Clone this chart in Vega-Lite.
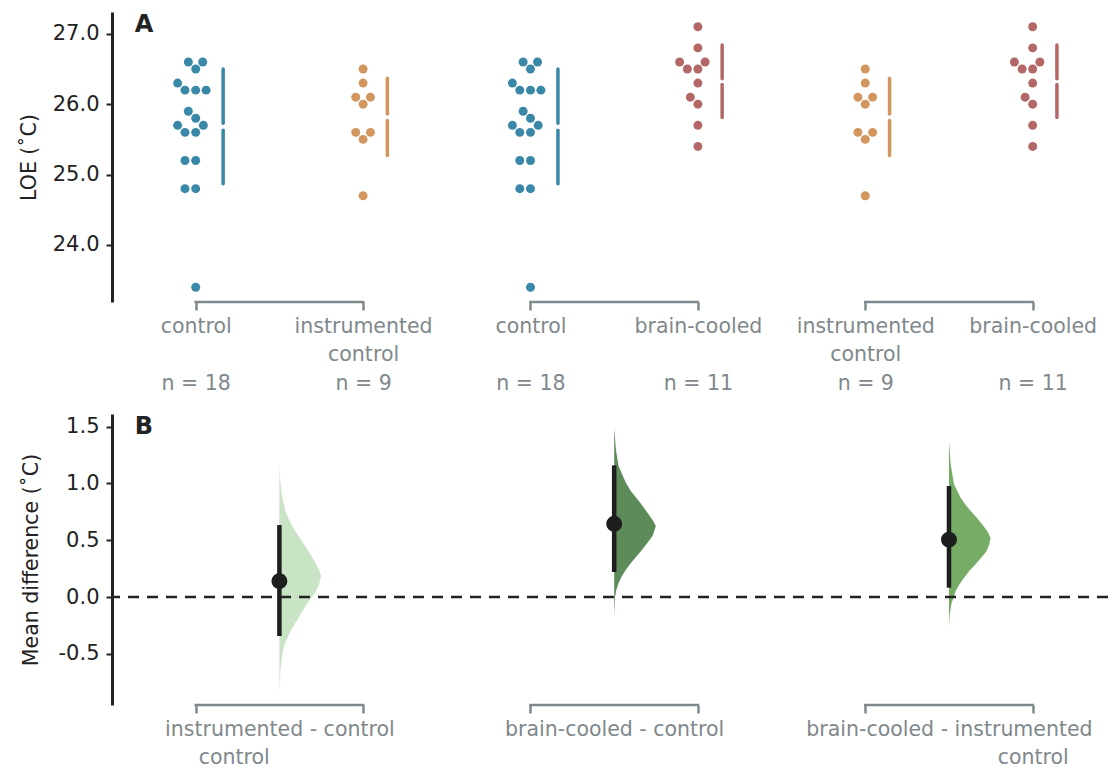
{
  "$schema": "https://vega.github.io/schema/vega-lite/v6.json",
  "background": "white",
  "padding": {"left": 19, "top": 12, "right": 0, "bottom": 0},
  "config": {"view": {"stroke": null}, "font": "DejaVu Sans", "axis": {"grid": false}},
  "spacing": 20,
  "resolve": {"scale": {"color": "independent"}},
  "datasets": {
    "pts": [
      {"g": 1, "grp": "control", "v": 26.6, "off": -0.044},
      {"g": 1, "grp": "control", "v": 26.6, "off": 0.042},
      {"g": 1, "grp": "control", "v": 26.5, "off": 0},
      {"g": 1, "grp": "control", "v": 26.3, "off": -0.108},
      {"g": 1, "grp": "control", "v": 26.2, "off": -0.064},
      {"g": 1, "grp": "control", "v": 26.2, "off": 0},
      {"g": 1, "grp": "control", "v": 26.2, "off": 0.062},
      {"g": 1, "grp": "control", "v": 25.9, "off": -0.044},
      {"g": 1, "grp": "control", "v": 25.8, "off": 0},
      {"g": 1, "grp": "control", "v": 25.7, "off": -0.108},
      {"g": 1, "grp": "control", "v": 25.7, "off": 0.046},
      {"g": 1, "grp": "control", "v": 25.6, "off": -0.064},
      {"g": 1, "grp": "control", "v": 25.6, "off": 0},
      {"g": 1, "grp": "control", "v": 25.2, "off": -0.064},
      {"g": 1, "grp": "control", "v": 25.2, "off": 0},
      {"g": 1, "grp": "control", "v": 24.8, "off": -0.064},
      {"g": 1, "grp": "control", "v": 24.8, "off": 0},
      {"g": 1, "grp": "control", "v": 23.4, "off": 0},
      {"g": 2, "grp": "instrumented", "v": 26.5, "off": 0},
      {"g": 2, "grp": "instrumented", "v": 26.3, "off": 0},
      {"g": 2, "grp": "instrumented", "v": 26.1, "off": -0.044},
      {"g": 2, "grp": "instrumented", "v": 26.1, "off": 0.044},
      {"g": 2, "grp": "instrumented", "v": 26.0, "off": 0},
      {"g": 2, "grp": "instrumented", "v": 25.6, "off": -0.044},
      {"g": 2, "grp": "instrumented", "v": 25.6, "off": 0.044},
      {"g": 2, "grp": "instrumented", "v": 25.5, "off": 0},
      {"g": 2, "grp": "instrumented", "v": 24.7, "off": 0},
      {"g": 3, "grp": "control", "v": 26.6, "off": -0.044},
      {"g": 3, "grp": "control", "v": 26.6, "off": 0.042},
      {"g": 3, "grp": "control", "v": 26.5, "off": 0},
      {"g": 3, "grp": "control", "v": 26.3, "off": -0.108},
      {"g": 3, "grp": "control", "v": 26.2, "off": -0.064},
      {"g": 3, "grp": "control", "v": 26.2, "off": 0},
      {"g": 3, "grp": "control", "v": 26.2, "off": 0.062},
      {"g": 3, "grp": "control", "v": 25.9, "off": -0.044},
      {"g": 3, "grp": "control", "v": 25.8, "off": 0},
      {"g": 3, "grp": "control", "v": 25.7, "off": -0.108},
      {"g": 3, "grp": "control", "v": 25.7, "off": 0.046},
      {"g": 3, "grp": "control", "v": 25.6, "off": -0.064},
      {"g": 3, "grp": "control", "v": 25.6, "off": 0},
      {"g": 3, "grp": "control", "v": 25.2, "off": -0.064},
      {"g": 3, "grp": "control", "v": 25.2, "off": 0},
      {"g": 3, "grp": "control", "v": 24.8, "off": -0.064},
      {"g": 3, "grp": "control", "v": 24.8, "off": 0},
      {"g": 3, "grp": "control", "v": 23.4, "off": 0},
      {"g": 4, "grp": "brain", "v": 27.1, "off": 0},
      {"g": 4, "grp": "brain", "v": 26.8, "off": 0},
      {"g": 4, "grp": "brain", "v": 26.6, "off": -0.109},
      {"g": 4, "grp": "brain", "v": 26.6, "off": 0.043},
      {"g": 4, "grp": "brain", "v": 26.5, "off": -0.063},
      {"g": 4, "grp": "brain", "v": 26.5, "off": 0},
      {"g": 4, "grp": "brain", "v": 26.3, "off": 0},
      {"g": 4, "grp": "brain", "v": 26.1, "off": -0.045},
      {"g": 4, "grp": "brain", "v": 26.0, "off": 0},
      {"g": 4, "grp": "brain", "v": 25.7, "off": 0},
      {"g": 4, "grp": "brain", "v": 25.4, "off": 0},
      {"g": 5, "grp": "instrumented", "v": 26.5, "off": 0},
      {"g": 5, "grp": "instrumented", "v": 26.3, "off": 0},
      {"g": 5, "grp": "instrumented", "v": 26.1, "off": -0.044},
      {"g": 5, "grp": "instrumented", "v": 26.1, "off": 0.044},
      {"g": 5, "grp": "instrumented", "v": 26.0, "off": 0},
      {"g": 5, "grp": "instrumented", "v": 25.6, "off": -0.044},
      {"g": 5, "grp": "instrumented", "v": 25.6, "off": 0.044},
      {"g": 5, "grp": "instrumented", "v": 25.5, "off": 0},
      {"g": 5, "grp": "instrumented", "v": 24.7, "off": 0},
      {"g": 6, "grp": "brain", "v": 27.1, "off": 0},
      {"g": 6, "grp": "brain", "v": 26.8, "off": 0},
      {"g": 6, "grp": "brain", "v": 26.6, "off": -0.109},
      {"g": 6, "grp": "brain", "v": 26.6, "off": 0.043},
      {"g": 6, "grp": "brain", "v": 26.5, "off": -0.063},
      {"g": 6, "grp": "brain", "v": 26.5, "off": 0},
      {"g": 6, "grp": "brain", "v": 26.3, "off": 0},
      {"g": 6, "grp": "brain", "v": 26.1, "off": -0.045},
      {"g": 6, "grp": "brain", "v": 26.0, "off": 0},
      {"g": 6, "grp": "brain", "v": 25.7, "off": 0},
      {"g": 6, "grp": "brain", "v": 25.4, "off": 0}
    ],
    "sd": [
      {"g": 1, "grp": "control", "y": 25.73, "y2": 26.50},
      {"g": 1, "grp": "control", "y": 24.87, "y2": 25.63},
      {"g": 2, "grp": "instrumented", "y": 25.86, "y2": 26.37},
      {"g": 2, "grp": "instrumented", "y": 25.27, "y2": 25.77},
      {"g": 3, "grp": "control", "y": 25.73, "y2": 26.50},
      {"g": 3, "grp": "control", "y": 24.87, "y2": 25.63},
      {"g": 4, "grp": "brain", "y": 26.36, "y2": 26.84},
      {"g": 4, "grp": "brain", "y": 25.81, "y2": 26.28},
      {"g": 5, "grp": "instrumented", "y": 25.86, "y2": 26.37},
      {"g": 5, "grp": "instrumented", "y": 25.27, "y2": 25.77},
      {"g": 6, "grp": "brain", "y": 26.36, "y2": 26.84},
      {"g": 6, "grp": "brain", "y": 25.81, "y2": 26.28}
    ],
    "brk": [
      {"a": 1, "b": 2},
      {"a": 3, "b": 4},
      {"a": 5, "b": 6}
    ],
    "dist": [
      {"cmp": "ic", "c": 1.5, "v": 1.17, "w": 0},
      {"cmp": "ic", "c": 1.5, "v": 1.05, "w": 0.003},
      {"cmp": "ic", "c": 1.5, "v": 0.90, "w": 0.014},
      {"cmp": "ic", "c": 1.5, "v": 0.75, "w": 0.036},
      {"cmp": "ic", "c": 1.5, "v": 0.64, "w": 0.07},
      {"cmp": "ic", "c": 1.5, "v": 0.55, "w": 0.108},
      {"cmp": "ic", "c": 1.5, "v": 0.46, "w": 0.149},
      {"cmp": "ic", "c": 1.5, "v": 0.317, "w": 0.209},
      {"cmp": "ic", "c": 1.5, "v": 0.25, "w": 0.233},
      {"cmp": "ic", "c": 1.5, "v": 0.185, "w": 0.249},
      {"cmp": "ic", "c": 1.5, "v": 0.12, "w": 0.239},
      {"cmp": "ic", "c": 1.5, "v": 0.053, "w": 0.219},
      {"cmp": "ic", "c": 1.5, "v": -0.02, "w": 0.185},
      {"cmp": "ic", "c": 1.5, "v": -0.094, "w": 0.149},
      {"cmp": "ic", "c": 1.5, "v": -0.17, "w": 0.12},
      {"cmp": "ic", "c": 1.5, "v": -0.24, "w": 0.09},
      {"cmp": "ic", "c": 1.5, "v": -0.31, "w": 0.063},
      {"cmp": "ic", "c": 1.5, "v": -0.387, "w": 0.04},
      {"cmp": "ic", "c": 1.5, "v": -0.45, "w": 0.024},
      {"cmp": "ic", "c": 1.5, "v": -0.534, "w": 0.014},
      {"cmp": "ic", "c": 1.5, "v": -0.65, "w": 0.006},
      {"cmp": "ic", "c": 1.5, "v": -0.83, "w": 0},
      {"cmp": "bc", "c": 3.5, "v": 1.49, "w": 0},
      {"cmp": "bc", "c": 3.5, "v": 1.30, "w": 0.010},
      {"cmp": "bc", "c": 3.5, "v": 1.152, "w": 0.026},
      {"cmp": "bc", "c": 3.5, "v": 1.005, "w": 0.07},
      {"cmp": "bc", "c": 3.5, "v": 0.93, "w": 0.10},
      {"cmp": "bc", "c": 3.5, "v": 0.859, "w": 0.139},
      {"cmp": "bc", "c": 3.5, "v": 0.80, "w": 0.17},
      {"cmp": "bc", "c": 3.5, "v": 0.742, "w": 0.199},
      {"cmp": "bc", "c": 3.5, "v": 0.68, "w": 0.228},
      {"cmp": "bc", "c": 3.5, "v": 0.624, "w": 0.249},
      {"cmp": "bc", "c": 3.5, "v": 0.537, "w": 0.229},
      {"cmp": "bc", "c": 3.5, "v": 0.48, "w": 0.20},
      {"cmp": "bc", "c": 3.5, "v": 0.42, "w": 0.169},
      {"cmp": "bc", "c": 3.5, "v": 0.36, "w": 0.135},
      {"cmp": "bc", "c": 3.5, "v": 0.30, "w": 0.10},
      {"cmp": "bc", "c": 3.5, "v": 0.24, "w": 0.07},
      {"cmp": "bc", "c": 3.5, "v": 0.185, "w": 0.046},
      {"cmp": "bc", "c": 3.5, "v": 0.12, "w": 0.026},
      {"cmp": "bc", "c": 3.5, "v": 0.068, "w": 0.014},
      {"cmp": "bc", "c": 3.5, "v": 0.0, "w": 0.005},
      {"cmp": "bc", "c": 3.5, "v": -0.167, "w": 0},
      {"cmp": "bi", "c": 5.5, "v": 1.372, "w": 0},
      {"cmp": "bi", "c": 5.5, "v": 1.167, "w": 0.010},
      {"cmp": "bi", "c": 5.5, "v": 0.991, "w": 0.03},
      {"cmp": "bi", "c": 5.5, "v": 0.873, "w": 0.07},
      {"cmp": "bi", "c": 5.5, "v": 0.81, "w": 0.10},
      {"cmp": "bi", "c": 5.5, "v": 0.756, "w": 0.13},
      {"cmp": "bi", "c": 5.5, "v": 0.70, "w": 0.165},
      {"cmp": "bi", "c": 5.5, "v": 0.639, "w": 0.199},
      {"cmp": "bi", "c": 5.5, "v": 0.58, "w": 0.228},
      {"cmp": "bi", "c": 5.5, "v": 0.522, "w": 0.249},
      {"cmp": "bi", "c": 5.5, "v": 0.46, "w": 0.24},
      {"cmp": "bi", "c": 5.5, "v": 0.405, "w": 0.225},
      {"cmp": "bi", "c": 5.5, "v": 0.35, "w": 0.195},
      {"cmp": "bi", "c": 5.5, "v": 0.288, "w": 0.159},
      {"cmp": "bi", "c": 5.5, "v": 0.23, "w": 0.122},
      {"cmp": "bi", "c": 5.5, "v": 0.17, "w": 0.09},
      {"cmp": "bi", "c": 5.5, "v": 0.11, "w": 0.062},
      {"cmp": "bi", "c": 5.5, "v": 0.053, "w": 0.04},
      {"cmp": "bi", "c": 5.5, "v": -0.064, "w": 0.014},
      {"cmp": "bi", "c": 5.5, "v": -0.15, "w": 0.005},
      {"cmp": "bi", "c": 5.5, "v": -0.255, "w": 0}
    ],
    "diff": [
      {"cmp": "ic", "c": 1.5, "m": 0.139, "lo": -0.343, "hi": 0.633},
      {"cmp": "bc", "c": 3.5, "m": 0.644, "lo": 0.22, "hi": 1.158},
      {"cmp": "bi", "c": 5.5, "m": 0.505, "lo": 0.082, "hi": 0.976}
    ]
  },
  "vconcat": [
    {
      "width": 996,
      "height": 290,
      "resolve": {"axis": {"x": "independent"}},
      "layer": [
        {
          "data": {"name": "pts"},
          "transform": [{"calculate": "datum.g + datum.off", "as": "px"}],
          "mark": {"type": "point", "filled": true, "size": 80, "opacity": 1, "strokeWidth": 0},
          "encoding": {
            "x": {
              "field": "px", "type": "quantitative", "title": null,
              "scale": {"domain": [0.5, 6.45], "nice": false, "zero": false},
              "axis": {
                "orient": "bottom",
                "values": [1, 2, 3, 4, 5, 6], "domain": false, "grid": false,
                "ticks": true, "tickSize": 8, "tickWidth": 2.5, "tickColor": "#7f888c",
                "labelExpr": "datum.value == 2 || datum.value == 5 ? ['instrumented', 'control'] : (datum.value == 1 || datum.value == 3 ? 'control' : 'brain-cooled')",
                "labelFont": "DejaVu Sans", "labelFontSize": 20.5, "labelColor": "#7f888c",
                "labelLineHeight": 28.5, "labelPadding": 6, "labelFlush": false,
                "labelOverlap": false, "labelBound": false, "labelLimit": 500
              }
            },
            "y": {
              "field": "v", "type": "quantitative", "title": "LOE (˚C)",
              "scale": {"domain": [23.19, 27.31], "nice": false, "zero": false},
              "axis": {
                "values": [24, 25, 26, 27], "format": ".1f", "grid": false,
                "domainColor": "#222222", "domainWidth": 3,
                "tickColor": "#222222", "tickWidth": 2, "tickSize": 6,
                "labelFont": "DejaVu Sans", "labelFontSize": 21, "labelColor": "#222222", "labelPadding": 7,
                "titleFont": "DejaVu Sans", "titleFontSize": 20.5, "titleFontWeight": "normal",
                "titleColor": "#222222", "titlePadding": 13
              }
            },
            "color": {
              "field": "grp", "type": "nominal", "legend": null,
              "scale": {"domain": ["control", "instrumented", "brain"], "range": ["#3a88a8", "#d3965f", "#b36767"]}
            }
          }
        },
        {
          "data": {"name": "sd"},
          "transform": [{"calculate": "datum.g + (datum.grp == 'control' ? 0.164 : 0.145)", "as": "lx"}],
          "mark": {"type": "rule", "strokeWidth": 3.5, "strokeCap": "round"},
          "encoding": {
            "x": {"field": "lx", "type": "quantitative", "title": null, "axis": null},
            "y": {"field": "y", "type": "quantitative", "title": "LOE (˚C)"},
            "y2": {"field": "y2"},
            "color": {"field": "grp", "type": "nominal", "legend": null}
          }
        },
        {
          "data": {"name": "brk"},
          "mark": {"type": "rule", "color": "#7f888c", "strokeWidth": 2.5, "strokeCap": "square"},
          "encoding": {
            "x": {
              "field": "a", "type": "quantitative", "title": null,
              "axis": {
                "orient": "bottom",
                "values": [1, 2, 3, 4, 5, 6], "domain": false, "grid": false,
                "ticks": true, "tickSize": 8, "tickOpacity": 0,
                "labelExpr": "datum.value == 1 || datum.value == 3 ? 'n = 18' : (datum.value == 2 || datum.value == 5 ? 'n = 9' : 'n = 11')",
                "labelFont": "DejaVu Sans", "labelFontSize": 20.5, "labelColor": "#7f888c",
                "labelPadding": 63, "labelFlush": false,
                "labelOverlap": false, "labelBound": false, "labelLimit": 500
              }
            },
            "x2": {"field": "b"},
            "y": {"datum": 23.19, "type": "quantitative", "title": "LOE (˚C)"}
          }
        },
        {
          "data": {"values": [{}]},
          "mark": {"type": "text", "text": "A", "font": "DejaVu Sans", "fontSize": 24, "fontWeight": "bold", "color": "#222222", "align": "left", "baseline": "alphabetic"},
          "encoding": {
            "x": {"datum": 0.636, "type": "quantitative", "title": null, "axis": null},
            "y": {"datum": 27.03, "type": "quantitative", "title": "LOE (˚C)"}
          }
        }
      ]
    },
    {
      "width": 996,
      "height": 291,
      "resolve": {"axis": {"x": "independent"}},
      "layer": [
        {
          "data": {"name": "dist"},
          "transform": [{"calculate": "datum.c + datum.w", "as": "cw"}],
          "mark": {"type": "area", "orient": "horizontal", "opacity": 1},
          "encoding": {
            "y": {
              "field": "v", "type": "quantitative", "title": "Mean difference (˚C)",
              "scale": {"domain": [-0.95, 1.61], "nice": false, "zero": false},
              "axis": {
                "values": [-0.5, 0, 0.5, 1, 1.5], "grid": false,
                "labelExpr": "datum.value < 0 ? '-' + format(-datum.value, '.1f') : format(datum.value, '.1f')",
                "domainColor": "#222222", "domainWidth": 3,
                "tickColor": "#222222", "tickWidth": 2, "tickSize": 6,
                "labelFont": "DejaVu Sans", "labelFontSize": 21, "labelColor": "#222222", "labelPadding": 7,
                "titleFont": "DejaVu Sans", "titleFontSize": 20.5, "titleFontWeight": "normal",
                "titleColor": "#222222", "titlePadding": 17
              }
            },
            "x": {
              "field": "c", "type": "quantitative", "title": null,
              "scale": {"domain": [0.5, 6.45], "nice": false, "zero": false},
              "axis": {
                "orient": "bottom",
                "values": [1, 1.227, 2, 3, 4, 5, 6], "domain": false, "grid": false,
                "ticks": true, "tickSize": 8, "tickWidth": 2.5, "tickColor": "#7f888c",
                "tickOpacity": {"condition": {"test": "datum.value % 1 != 0", "value": 0}, "value": 1},
                "labelExpr": "datum.value == 6 || (datum.value > 1.2 && datum.value < 1.3) ? 'control' : ''",
                "labelFont": "DejaVu Sans", "labelFontSize": 20.5, "labelColor": "#7f888c",
                "labelPadding": 34.5, "labelFlush": false,
                "labelOverlap": false, "labelBound": false, "labelLimit": 500
              }
            },
            "x2": {"field": "cw"},
            "color": {
              "field": "cmp", "type": "nominal", "legend": null,
              "scale": {"domain": ["ic", "bc", "bi"], "range": ["#c8e4c4", "#5e8b5a", "#76ac66"]}
            }
          }
        },
        {
          "data": {"values": [{}]},
          "mark": {"type": "rule", "color": "#222222", "strokeWidth": 2.5, "strokeDash": [11, 8]},
          "encoding": {
            "y": {"datum": 0, "type": "quantitative", "title": "Mean difference (˚C)"}
          }
        },
        {
          "data": {"name": "brk"},
          "mark": {"type": "rule", "color": "#7f888c", "strokeWidth": 2.5, "strokeCap": "square"},
          "encoding": {
            "x": {
              "field": "a", "type": "quantitative", "title": null,
              "axis": {
                "orient": "bottom",
                "values": [1.5, 3.5, 5.5], "domain": false, "grid": false,
                "ticks": true, "tickSize": 8, "tickOpacity": 0,
                "labelExpr": "datum.value == 1.5 ? 'instrumented - control' : (datum.value == 3.5 ? 'brain-cooled - control' : 'brain-cooled - instrumented')",
                "labelFont": "DejaVu Sans", "labelFontSize": 20.5, "labelColor": "#7f888c",
                "labelPadding": 6, "labelFlush": false,
                "labelOverlap": false, "labelBound": false, "labelLimit": 500
              }
            },
            "x2": {"field": "b"},
            "y": {"datum": -0.95, "type": "quantitative", "title": "Mean difference (˚C)"}
          }
        },
        {
          "data": {"name": "diff"},
          "mark": {"type": "rule", "color": "#1e1e1e", "strokeWidth": 4.5},
          "encoding": {
            "x": {"field": "c", "type": "quantitative", "title": null, "axis": null},
            "y": {"field": "lo", "type": "quantitative", "title": "Mean difference (˚C)"},
            "y2": {"field": "hi"}
          }
        },
        {
          "data": {"name": "diff"},
          "mark": {"type": "point", "filled": true, "size": 254, "opacity": 1, "color": "#1e1e1e", "strokeWidth": 0},
          "encoding": {
            "x": {"field": "c", "type": "quantitative", "title": null, "axis": null},
            "y": {"field": "m", "type": "quantitative", "title": "Mean difference (˚C)"}
          }
        },
        {
          "data": {"values": [{}]},
          "mark": {"type": "text", "text": "B", "font": "DejaVu Sans", "fontSize": 24, "fontWeight": "bold", "color": "#222222", "align": "left", "baseline": "alphabetic"},
          "encoding": {
            "x": {"datum": 0.636, "type": "quantitative", "title": null, "axis": null},
            "y": {"datum": 1.431, "type": "quantitative", "title": "Mean difference (˚C)"}
          }
        }
      ]
    }
  ]
}
